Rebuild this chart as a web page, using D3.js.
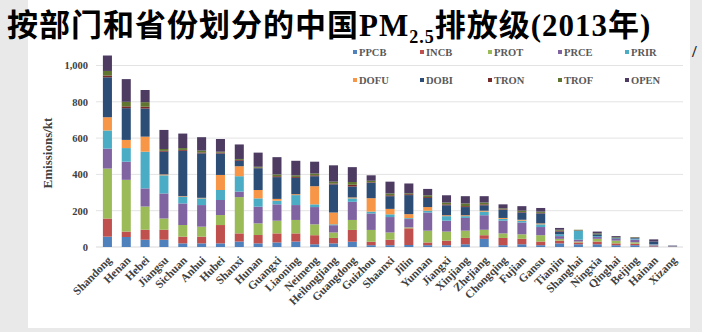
<!DOCTYPE html>
<html><head><meta charset="utf-8">
<script src="https://cdn.jsdelivr.net/npm/d3@7"></script>
<style>
  body { margin: 0; background: #e9e9e9; }
  svg { display: block; }
</style>
</head><body>
<svg id="chart" width="702" height="332"></svg>
<script>
// Provinces, ordered by total emissions
const provinces = ["Shandong","Henan","Hebei","Jiangsu","Sichuan","Anhui","Hubei","Shanxi","Hunan","Guangxi",
  "Liaoning","Neimeng","Heilongjiang","Guangdong","Guizhou","Shaanxi","Jilin","Yunnan","Jiangxi","Xinjiang",
  "Zhejiang","Chongqing","Fujian","Gansu","Tianjin","Shanghai","Ningxia","Qinghai","Beijing","Hainan","Xizang"];

// Sector codes (stack order, bottom to top)
const sectors = ["PPCB","INCB","PROT","PRCE","PRIR","DOFU","DOBI","TRON","TROF","OPEN"];
const sectorColors = ["#4f81bd","#c0504d","#9bbb59","#8064a2","#4bacc6","#f79646","#2c4d75","#772c2a","#5f7530","#4d3b62"];

// PM2.5 emissions per sector, kt
const PPCB = [57,55,40,40,20,20,20,30,20,25,30,15,20,29,10,10,11,10,10,15,45,10,15,10,20,15,15,10,10,3,0];
const INCB = [100,30,55,55,37,37,101,45,46,50,45,50,30,65,19,30,92,15,25,35,20,40,30,20,15,10,15,10,8,3,0];
const PROT = [275,285,128,62,64,55,55,200,64,70,74,60,30,55,65,40,5,65,50,40,30,25,25,35,10,5,15,15,8,2,2];
const PRCE = [110,100,100,138,119,119,83,30,92,90,82,95,40,100,91,85,46,100,60,70,80,70,65,45,15,10,10,10,15,5,3];
const PRIR = [100,75,202,100,37,37,55,85,46,20,55,15,5,19,10,15,5,10,25,10,20,10,10,15,10,50,5,2,5,2,0];
const DOFU = [73,45,83,5,3,3,83,55,46,10,5,100,65,5,74,30,22,20,5,5,5,5,5,5,0,0,0,0,0,0,0];
const DOBI = [220,175,155,125,250,245,118,30,120,120,90,55,155,60,85,70,105,50,55,45,30,45,40,55,15,0,10,5,5,15,2];
const TRON = [10,10,10,5,5,5,5,5,3,5,5,5,5,10,3,5,5,5,5,5,5,3,3,3,5,2,0,0,2,0,0];
const TROF = [25,25,25,10,10,10,5,5,5,10,9,10,10,15,8,10,5,10,10,15,10,5,7,7,5,3,5,3,2,0,0];
const OPEN = [85,125,67,105,80,74,70,80,78,95,80,65,90,82,30,65,54,35,40,40,35,22,25,20,10,0,10,5,0,12,1];

const yTicks = [0, 200, 400, 600, 800, 1000];

const seriesBySector = { PPCB, INCB, PROT, PRCE, PRIR, DOFU, DOBI, TRON, TROF, OPEN };
const rows = provinces.map((p, i) => {
  const r = { province: p };
  sectors.forEach(s => { r[s] = seriesBySector[s][i]; });
  return r;
});

const svg = d3.select("#chart");
const serif = "'Liberation Serif', 'Times New Roman', serif";
const cjk = "'Noto Sans CJK SC', sans-serif";

// Panel background
svg.append("rect").attr("x", 28).attr("y", 0).attr("width", 662).attr("height", 328).attr("fill", "#ffffff");

const x = d3.scaleBand().domain(provinces).range([98, 682]).paddingInner(0.52).paddingOuter(0.26);
const y = d3.scaleLinear().domain([0, 1000]).range([247, 65.5]);
const color = d3.scaleOrdinal().domain(sectors).range(sectorColors);

// Gridlines
svg.append("g").selectAll("line").data(yTicks.filter(t => t > 0)).join("line")
  .attr("x1", 96).attr("x2", 683)
  .attr("y1", d => y(d)).attr("y2", d => y(d))
  .attr("stroke", "#e3e3e3").attr("stroke-width", 1);

// Y axis
const yAxis = svg.append("g").attr("transform", "translate(92,0)")
  .call(d3.axisLeft(y).tickValues(yTicks).tickFormat(d3.format(",")).tickSize(0).tickPadding(4));
yAxis.select(".domain").remove();
yAxis.selectAll("text").attr("font-family", serif).attr("font-weight", "bold")
  .attr("font-size", 10.5).attr("fill", "#404040");

// Baseline
svg.append("line").attr("x1", 96).attr("x2", 683).attr("y1", y(0)).attr("y2", y(0))
  .attr("stroke", "#d9d9d9");

// Stacked bars
const stacked = d3.stack().keys(sectors)(rows);
svg.append("g").selectAll("g").data(stacked).join("g")
  .attr("fill", d => color(d.key))
  .selectAll("rect").data(d => d).join("rect")
  .attr("x", d => x(d.data.province))
  .attr("width", x.bandwidth())
  .attr("y", d => y(d[1]))
  .attr("height", d => y(d[0]) - y(d[1]));

// X labels
svg.append("g").selectAll("text").data(provinces).join("text")
  .attr("transform", d => `translate(${x(d) + x.bandwidth() / 2 + 5},261) rotate(-45)`)
  .attr("text-anchor", "end")
  .attr("font-family", serif).attr("font-weight", "bold").attr("font-size", 11.5)
  .attr("fill", "#404040")
  .text(d => d);

// Y axis title
svg.append("text")
  .attr("transform", "translate(52,153) rotate(-90)")
  .attr("text-anchor", "middle")
  .attr("font-family", serif).attr("font-weight", "bold").attr("font-size", 13)
  .attr("fill", "#404040")
  .text("Emissions/kt");

// Legend: two rows of five
const legendX = [355, 422, 490, 560, 627];
const legendY = [52, 80];
const legend = svg.append("g").selectAll("g").data(sectors).join("g")
  .attr("transform", (d, i) => `translate(${legendX[i % 5]},${legendY[Math.floor(i / 5)]})`);
legend.append("rect").attr("x", -2).attr("y", -2).attr("width", 4).attr("height", 4)
  .attr("fill", d => color(d));
legend.append("text").attr("x", 4).attr("y", 3.5)
  .attr("font-family", serif).attr("font-weight", "bold").attr("font-size", 10.5)
  .attr("fill", "#595959")
  .text(d => d);

// Title
const title = svg.append("text").attr("x", 7).attr("y", 36).attr("fill", "#000")
  .attr("font-weight", "bold").attr("font-size", 31).attr("letter-spacing", 1);
title.append("tspan").attr("font-family", cjk).text("按部门和省份划分的中国");
title.append("tspan").attr("font-family", serif).text("PM");
title.append("tspan").attr("font-family", serif).attr("font-size", 18).attr("dy", 7).text("2.5");
title.append("tspan").attr("font-family", cjk).attr("dy", -7).text("排放级");
title.append("tspan").attr("font-family", serif).text("(2013");
title.append("tspan").attr("font-family", cjk).text("年");
title.append("tspan").attr("font-family", serif).text(")");

// Edge mark on the right margin
svg.append("text").attr("x", 692).attr("y", 57)
  .attr("font-family", serif).attr("font-weight", "bold").attr("font-size", 17).attr("fill", "#222")
  .text("/");
</script>
</body></html>
